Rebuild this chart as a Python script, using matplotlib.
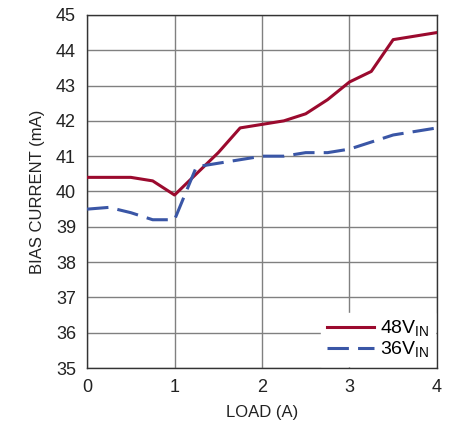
import matplotlib
matplotlib.use("Agg")
import matplotlib.pyplot as plt

plt.rcParams['font.family'] = ['Liberation Sans Narrow', 'Liberation Sans', 'DejaVu Sans']

# load current (A)
load = [0, 0.25, 0.5, 0.75, 1.0, 1.25, 1.5, 1.75, 2.0, 2.25, 2.5, 2.75, 3.0, 3.25, 3.5, 3.75, 4.0]
# bias current (mA)
bias_48v = [40.4, 40.4, 40.4, 40.3, 39.9, 40.5, 41.1, 41.8, 41.9, 42.0, 42.2, 42.6, 43.1, 43.4, 44.3, 44.4, 44.5]
bias_36v = [39.5, 39.55, 39.4, 39.2, 39.2, 40.7, 40.8, 40.9, 41.0, 41.0, 41.1, 41.1, 41.2, 41.4, 41.6, 41.7, 41.8]

fig = plt.figure(figsize=(4.49, 4.26), dpi=100)
ax = fig.add_axes([0.194, 0.136, 0.779, 0.829])

ax.plot(load, bias_48v, color="#9b0a2e", lw=2.2, label="48V$_{\\mathregular{IN}}$", zorder=3)
ax.plot(load, bias_36v, color="#3a56a6", lw=2.2, dashes=(7, 3), label="36V$_{\\mathregular{IN}}$", zorder=3)

ax.set_xlim(0, 4)
ax.set_ylim(35, 45)
ax.set_xticks(range(0, 5))
ax.set_yticks(range(35, 46))
ax.grid(True, color="#808080", lw=1.0)
ax.tick_params(length=0, labelsize=13, colors="#222222", pad=8)
for s in ax.spines.values():
    s.set_color("#333333")
    s.set_linewidth(1.0)

ax.set_xlabel("LOAD (A)", fontsize=12, color="#222222", labelpad=6)
ax.set_ylabel("BIAS CURRENT (mA)", fontsize=12, color="#222222", labelpad=8)

leg = ax.legend(loc="lower right", frameon=True, fancybox=False, fontsize=14,
                handlelength=2.4, handletextpad=0.3, borderpad=0.3, labelspacing=0.05,
                borderaxespad=0.1)
leg.get_frame().set_edgecolor("white")
leg.get_frame().set_alpha(1)

fig.savefig("out.png", dpi=100)
